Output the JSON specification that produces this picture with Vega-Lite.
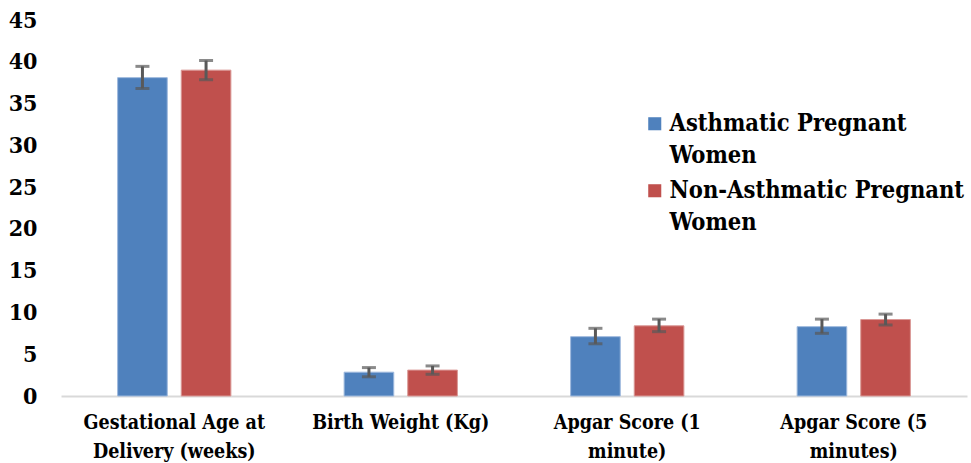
{
  "$schema": "https://vega.github.io/schema/vega-lite/v6.json",
  "width": 906,
  "height": 376,
  "autosize": {"type": "none"},
  "padding": {"left": 61, "top": 20, "right": 4, "bottom": 67},
  "background": "white",
  "config": {"view": {"stroke": null}, "style": {"guide-label": {"lineHeight": 32}}},
  "data": {"values": [
    {"category": "Gestational Age at Delivery (weeks)", "group": "Asthmatic Pregnant Women", "mean": 38.1, "lo": 36.8, "hi": 39.45},
    {"category": "Gestational Age at Delivery (weeks)", "group": "Non-Asthmatic Pregnant Women", "mean": 39.0, "lo": 37.85, "hi": 40.15},
    {"category": "Birth Weight (Kg)", "group": "Asthmatic Pregnant Women", "mean": 2.85, "lo": 2.3, "hi": 3.4},
    {"category": "Birth Weight (Kg)", "group": "Non-Asthmatic Pregnant Women", "mean": 3.1, "lo": 2.6, "hi": 3.6},
    {"category": "Apgar Score (1 minute)", "group": "Asthmatic Pregnant Women", "mean": 7.1, "lo": 6.25, "hi": 8.1},
    {"category": "Apgar Score (1 minute)", "group": "Non-Asthmatic Pregnant Women", "mean": 8.4, "lo": 7.7, "hi": 9.2},
    {"category": "Apgar Score (5 minutes)", "group": "Asthmatic Pregnant Women", "mean": 8.3, "lo": 7.5, "hi": 9.2},
    {"category": "Apgar Score (5 minutes)", "group": "Non-Asthmatic Pregnant Women", "mean": 9.15, "lo": 8.5, "hi": 9.8}
  ]},
  "encoding": {
    "x": {
      "field": "category", "type": "nominal", "sort": null, "title": null,
      "scale": {"paddingInner": 0.5, "paddingOuter": 0.25},
      "axis": {
        "labelAngle": 0, "labelFontSize": 19.5, "labelFontWeight": "bold", "labelColor": "#000000",
        "labelFont": "DejaVu Serif Condensed", "labelLineHeight": 29, "labelPadding": 17, "labelBaseline": "top",
        "labelLimit": 300,
        "ticks": false, "domainColor": "#d9d9d9", "domainWidth": 2,
        "labelExpr": "datum.value == 'Gestational Age at Delivery (weeks)' ? ['Gestational Age at', 'Delivery (weeks)'] : datum.value == 'Apgar Score (1 minute)' ? ['Apgar Score (1', 'minute)'] : datum.value == 'Apgar Score (5 minutes)' ? ['Apgar Score (5', 'minutes)'] : datum.value"
      }
    },
    "xOffset": {"field": "group", "type": "nominal", "scale": {"paddingInner": 0.22, "paddingOuter": 0}}
  },
  "layer": [
    {
      "mark": {"type": "bar", "strokeWidth": 1},
      "encoding": {
        "y": {
          "field": "mean", "type": "quantitative", "title": null,
          "scale": {"domain": [0, 45], "nice": false},
          "axis": {
            "values": [0, 5, 10, 15, 20, 25, 30, 35, 40, 45], "grid": false, "domain": false, "ticks": false,
            "labelFontSize": 23, "labelFontWeight": "bold", "labelColor": "#000000", "labelFont": "DejaVu Serif Condensed",
            "labelPadding": 24
          }
        },
        "color": {
          "field": "group", "type": "nominal", "title": null,
          "scale": {"domain": ["Asthmatic Pregnant Women", "Non-Asthmatic Pregnant Women"], "range": ["#4F81BD", "#C0504D"]},
          "legend": {
            "orient": "none", "legendX": 582, "legendY": 92,
            "symbolType": "square", "symbolSize": 170, "symbolStrokeWidth": 0,
            "labelFontSize": 23.5, "labelFontWeight": "bold", "labelColor": "#000000", "labelFont": "DejaVu Serif Condensed",
            "labelLimit": 400, "rowPadding": 10, "labelOffset": 3,
            "labelExpr": "datum.value == 'Asthmatic Pregnant Women' ? ['Asthmatic Pregnant', 'Women'] : ['Non-Asthmatic Pregnant', 'Women']"
          }
        },
        "stroke": {
          "field": "group", "type": "nominal", "legend": null,
          "scale": {"domain": ["Asthmatic Pregnant Women", "Non-Asthmatic Pregnant Women"], "range": ["#9DB8DD", "#DA9896"]}
        }
      }
    },
    {
      "mark": {"type": "rule", "color": "#595959", "strokeWidth": 3},
      "encoding": {
        "y": {"field": "lo", "type": "quantitative"},
        "y2": {"field": "hi"}
      }
    },
    {
      "mark": {"type": "tick", "color": "#595959", "thickness": 3, "size": 14},
      "encoding": {"y": {"field": "lo", "type": "quantitative"}}
    },
    {
      "mark": {"type": "tick", "color": "#595959", "thickness": 3, "size": 14},
      "encoding": {"y": {"field": "hi", "type": "quantitative"}}
    }
  ]
}
